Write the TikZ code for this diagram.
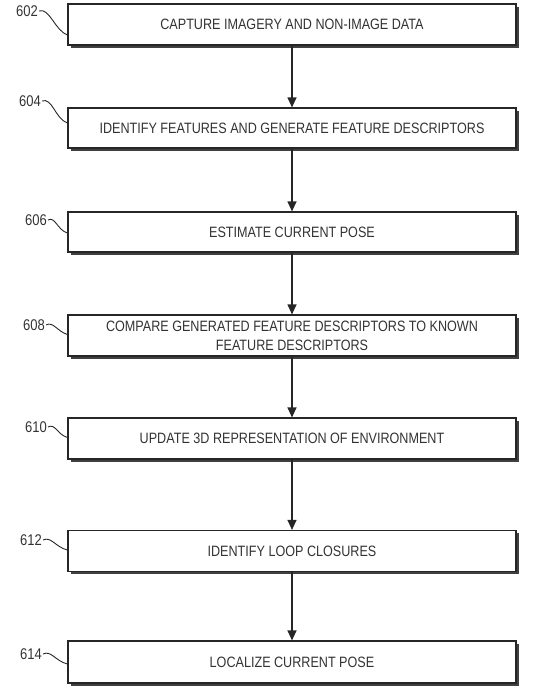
\documentclass[tikz,border=0pt]{standalone}
\usepackage{fontspec}
\setmainfont{Liberation Sans}[FakeStretch=0.84]
\usepackage{tikz}
\usetikzlibrary{positioning, arrows.meta, shadows}

\tikzset{
  stepbox/.style={draw=black!85, line width=1.2pt, fill=white, minimum width=448pt,
    align=center, text=black!80, font=\fontsize{15}{19}\selectfont,
    drop shadow={shadow xshift=2.5pt, shadow yshift=-2.5pt, fill=black!75, opacity=1}},
  reflabel/.style={text=black!80, font=\fontsize{15.5}{17}\selectfont, inner sep=1pt},
  flow/.style={draw=black!85, line width=1.2pt, -{Triangle[length=10pt, width=9pt]}},
  squig/.style={draw=black!85, line width=0.9pt}
}

\begin{document}
\begin{tikzpicture}[x=1pt, y=-1pt]
  \useasboundingbox (0,0) rectangle (534,691);

  % Process steps
  \node[stepbox, minimum height=41pt] (b602) at (292,24.5) {CAPTURE IMAGERY AND NON-IMAGE DATA};
  \node[stepbox, minimum height=40pt] (b604) at (292,128) {IDENTIFY FEATURES AND GENERATE FEATURE DESCRIPTORS};
  \node[stepbox, minimum height=40pt] (b606) at (292,232) {ESTIMATE CURRENT POSE};
  \node[stepbox, minimum height=41pt] (b608) at (292,335.5) {COMPARE GENERATED FEATURE DESCRIPTORS TO KNOWN\\FEATURE DESCRIPTORS};
  \node[stepbox, minimum height=41pt] (b610) at (292,438.5) {UPDATE 3D REPRESENTATION OF ENVIRONMENT};
  \node[stepbox, minimum height=41pt] (b612) at (292,551) {IDENTIFY LOOP CLOSURES};
  \node[stepbox, minimum height=42pt] (b614) at (292,662) {LOCALIZE CURRENT POSE};

  % Flow arrows
  \draw[flow] (b602) -- (b604);
  \draw[flow] (b604) -- (b606);
  \draw[flow] (b606) -- (b608);
  \draw[flow] (b608) -- (b610);
  \draw[flow] (b610) -- (b612);
  \draw[flow] (b612) -- (b614);

  % Reference numerals
  \node[reflabel] (l602) at (27,11) {602};
  \node[reflabel] (l604) at (30,101) {604};
  \node[reflabel] (l606) at (36,220) {606};
  \node[reflabel] (l608) at (34,325) {608};
  \node[reflabel] (l610) at (36,427) {610};
  \node[reflabel] (l612) at (31,540) {612};
  \node[reflabel] (l614) at (31,654) {614};

  % Leader squiggles
  \draw[squig] (l602.east) .. controls +(10,-4) and +(-12,-4) .. ([yshift=-10.5pt]b602.west);
  \draw[squig] (l604.east) .. controls +(10,-4) and +(-12,-4) .. ([yshift=5pt]b604.west);
  \draw[squig] (l606.east) .. controls +(7,-4) and +(-10,-3) .. ([yshift=-1pt]b606.west);
  \draw[squig] (l608.east) .. controls +(7,-4) and +(-10,-3) .. ([yshift=1pt]b608.west);
  \draw[squig] (l610.east) .. controls +(7,-4) and +(-10,-3) .. ([yshift=1pt]b610.west);
  \draw[squig] (l612.east) .. controls +(8,-4) and +(-12,-3) .. ([yshift=1pt]b612.west);
  \draw[squig] (l614.east) .. controls +(8,-4) and +(-12,-3) .. ([yshift=-2pt]b614.west);
\end{tikzpicture}
\end{document}
